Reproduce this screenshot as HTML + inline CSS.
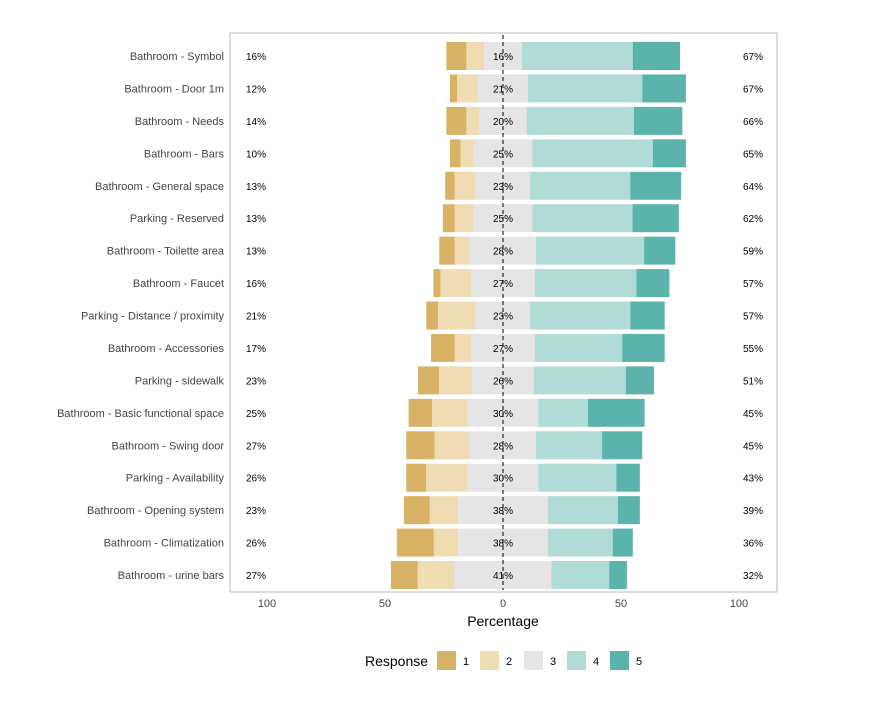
<!DOCTYPE html>
<html><head><meta charset="utf-8"><style>
body{margin:0;background:#fff;}
svg{display:block;font-family:"Liberation Sans",sans-serif;}
</style></head><body>
<svg id="chart" width="888" height="702">
<rect x="230" y="33" width="547" height="559" fill="#fff" stroke="#bbb"/>
<g id="bars"></g>
<line x1="503" y1="35" x2="503" y2="590" stroke="#000" stroke-dasharray="4,3"/>
<g id="labels"></g>
<g id="xticks"></g>
<text x="503" y="626" text-anchor="middle" font-size="14" fill="#000">Percentage</text>
<g id="legend">
<text x="365" y="666" font-size="14" fill="#000">Response</text>
</g>
</svg>
<script>
const categories=["Bathroom - Symbol","Bathroom - Door 1m","Bathroom - Needs","Bathroom - Bars","Bathroom - General space","Parking - Reserved","Bathroom - Toilette area","Bathroom - Faucet","Parking - Distance / proximity","Bathroom - Accessories","Parking - sidewalk","Bathroom - Basic functional space","Bathroom - Swing door","Parking - Availability","Bathroom - Opening system","Bathroom - Climatization","Bathroom - urine bars"];
const r1=[8.5,3,8.5,4.5,4,5,6.5,3,5,10,9,10,12,8.5,11,15.7,11.4];
const r2=[7.5,9,5.5,5.5,9,8,6.5,13,16,7,14,15,15,17.5,12,10.3,15.6];
const r3=[16,21,20,25,23,25,28,27,23,27,26,30,28,30,38,38,41];
const r4=[47,48.5,45.5,51,42.4,42.4,45.8,43,42.5,37,39,21,28,33,29.7,27.5,24.5];
const r5=[20,18.5,20.5,14,21.6,19.6,13.2,14,14.5,18,12,24,17,10,9.3,8.5,7.5];
const lowLabels=["16%","12%","14%","10%","13%","13%","13%","16%","21%","17%","23%","25%","27%","26%","23%","26%","27%"];
const midLabels=["16%","21%","20%","25%","23%","25%","28%","27%","23%","27%","26%","30%","28%","30%","38%","38%","41%"];
const highLabels=["67%","67%","66%","65%","64%","62%","59%","57%","57%","55%","51%","45%","45%","43%","39%","36%","32%"];
const xTicks=[-100,-50,0,50,100];
const colors=["#d8b365","#efdcb2","#e5e5e5","#b0dbd7","#5ab4ac"];
const NS="http://www.w3.org/2000/svg";
const xs=v=>503+v*2.36;
const ys=i=>56+i*32.44;
const bars=document.getElementById('bars'),labs=document.getElementById('labels');
function mk(tag,attrs,parent){const e=document.createElementNS(NS,tag);for(const k in attrs)e.setAttribute(k,attrs[k]);parent.appendChild(e);return e;}
categories.forEach((c,i)=>{
  const y=ys(i);
  const segs=[[-(r3[i]/2)-r2[i]-r1[i],r1[i]],[-(r3[i]/2)-r2[i],r2[i]],[-r3[i]/2,r3[i]],[r3[i]/2,r4[i]],[r3[i]/2+r4[i],r5[i]]];
  segs.forEach((s,k)=>{
    const r=mk('rect',{x:xs(s[0]),y:y-14,width:s[1]*2.36,height:28,fill:colors[k]},bars);
    
    
  });
  let t=mk('text',{x:224,y:y+4,'text-anchor':'end','font-size':11,fill:'#444'},labs);t.textContent=c;
  
  
  t=mk('text',{x:256,y:y+4,'text-anchor':'middle','font-size':10,fill:'#000'},labs);t.textContent=lowLabels[i];
  
  
  t=mk('text',{x:503,y:y+4,'text-anchor':'middle','font-size':10,fill:'#000'},labs);t.textContent=midLabels[i];
  
  
  t=mk('text',{x:753,y:y+4,'text-anchor':'middle','font-size':10,fill:'#000'},labs);t.textContent=highLabels[i];
  
  
});
const xt=document.getElementById('xticks');
xTicks.forEach(v=>{
  const t=mk('text',{x:xs(v),y:607,'text-anchor':'middle','font-size':11,fill:'#444'},xt);t.textContent=Math.abs(v);
  
  
});
const lg=document.getElementById('legend');
const lx=[437,480,524,567,610];
lx.forEach((x,k)=>{
  const r=mk('rect',{x:x,y:651,width:19,height:19,fill:colors[k]},lg);
  
  
  const t=mk('text',{x:x+29,y:665,'text-anchor':'middle','font-size':11,fill:'#000'},lg);t.textContent=k+1;
  
  
});
</script>
</body></html>
